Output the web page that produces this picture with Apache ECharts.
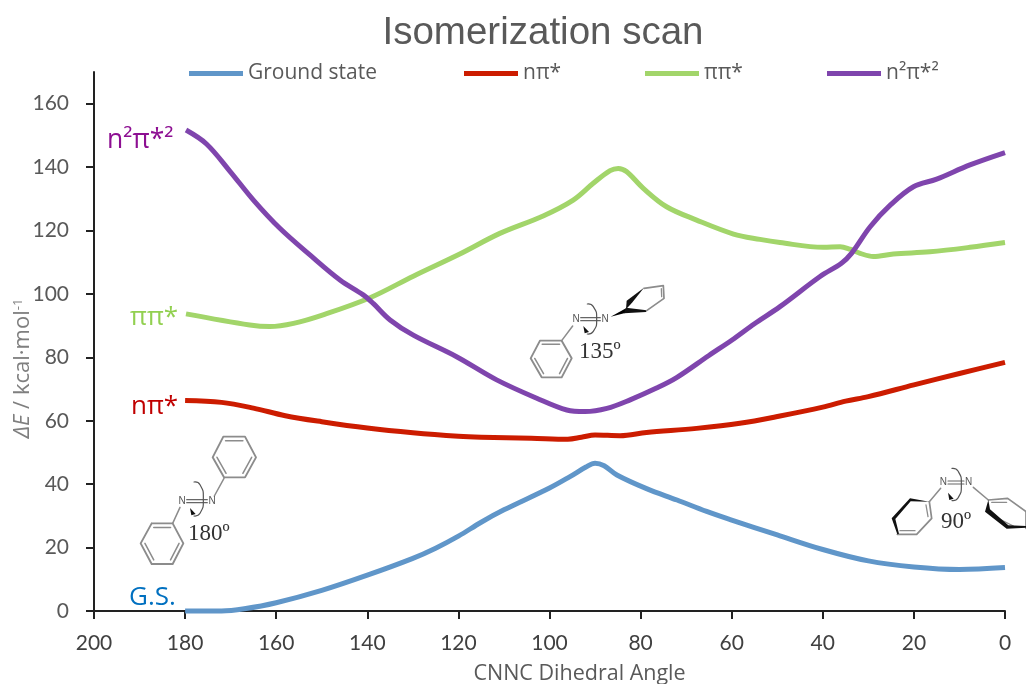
<!DOCTYPE html>
<html><head><meta charset="utf-8">
<style>html,body{margin:0;padding:0;background:#fff}#c{width:1026px;height:684px}</style>
<script src="https://cdn.jsdelivr.net/npm/echarts@6/dist/echarts.min.js"></script>
</head><body><div id="c"></div>
<script>
const xTicks=[0,20,40,60,80,100,120,140,160,180,200];
const yTicks=[0,20,40,60,80,100,120,140,160];
const groundState=[[180,0],[172,0],[167,0.7],[160,2.6],[150,6.5],[140,11.3],[130,16.6],[125,19.8],[120,23.6],[115,28],[110,31.9],[100,38.8],[95.5,42.4],[92,45.4],[90,46.6],[88,45.8],[85.2,42.9],[78.7,38.6],[72,35],[65.5,31.4],[60,28.7],[50,24],[40,19.4],[30,15.8],[20,13.9],[10,13.1],[0,13.7]];
const npi=[[180,66.4],[172,65.8],[165,64],[158,61.6],[150,59.7],[140,57.7],[130,56.2],[120,55.1],[115,54.8],[104,54.5],[96,54.2],[93,54.8],[90,55.5],[84.5,55.3],[78.7,56.3],[67.7,57.6],[58.2,59.2],[49.4,61.5],[40,64.3],[35,66.2],[30,67.6],[20,71.3],[10,74.9],[0,78.4]];
const pipi=[[179.8,93.7],[165.8,90.2],[161.4,89.7],[156.2,90.7],[149.7,93.4],[139.4,98.8],[129.9,105.6],[119.7,112.6],[110.9,119.1],[101.4,124.6],[94.8,129.6],[90.4,134.9],[86.7,138.9],[84.9,139.6],[83.1,138.6],[79.4,133.3],[74.3,127.5],[67.7,123.3],[59.6,118.9],[53.8,117.2],[49.4,116.2],[39.9,114.7],[36.2,114.9],[34,114.1],[31.8,112.8],[28.9,111.8],[24.5,112.6],[16.5,113.3],[7.7,114.7],[0,116.2]];
const n2pi2=[[179.8,151.7],[175.3,147.3],[170.1,138.6],[165,129.6],[159.2,120.7],[152.6,112.3],[146,104.4],[140.9,99.7],[138.7,97],[135,91.8],[129.9,87],[120.4,80.2],[111.6,72.9],[102.8,67.1],[96.2,63.4],[92.2,62.9],[87.4,63.9],[82.3,66.6],[76.5,70.3],[72.1,73.6],[65,80.6],[60,85.4],[55,90.6],[49.4,96],[40.6,105.5],[35.9,109.7],[33.7,112.8],[29.6,121.2],[25.2,128],[20.1,133.8],[15,136.2],[7.7,140.7],[0,144.6]];
const seriesNames=['Ground state','nπ*','ππ*','n²π*²'];
const seriesColors=['#6096c9','#cc1c00','#a2d56a','#7f45ad'];
const seriesData=[groundState,npi,pipi,n2pi2];
const legendLefts=[189,464,645,827];

const GREY='#595959',BOND='#8c8c8c',DARK='#000';
const gfx=[];
function label(t,x,y,color,size,font){gfx.push({type:'text',x,y,silent:true,z:5,style:{text:t,fill:color,font:size+'px "'+(font||'Open Sans')+'"',textAlign:'left',textVerticalAlign:'middle'}});}
function line(pts,ox,oy,w,c,sm){gfx.push({type:'polyline',silent:true,z:4,shape:{smooth:sm||0,points:pts.map(p=>[ox+p[0]/3,oy+p[1]/3])},style:{stroke:c||BOND,lineWidth:w||1.3,fill:null,lineCap:'round',lineJoin:'round'}});}
function fillp(pts,ox,oy,c){gfx.push({type:'polygon',silent:true,z:4,shape:{points:pts.map(p=>[ox+p[0]/3,oy+p[1]/3])},style:{fill:c||DARK}});}
function ring(p,ox,oy){line(p.concat([p[0]]),ox,oy,1.9);}
function inner(a,b,cx,cy,ox,oy){const f=.8,q=[[cx+(a[0]-cx)*f,cy+(a[1]-cy)*f],[cx+(b[0]-cx)*f,cy+(b[1]-cy)*f]];line(q,ox,oy,1.5);}
function nn(x1,x2,y,ox,oy){
 [x1,x2].forEach(x=>gfx.push({type:'text',x:ox+x/3,y:oy+y/3,silent:true,z:5,style:{text:'N',fill:'#555',font:'10px "Liberation Sans"',textAlign:'center',textVerticalAlign:'middle'}}));
 line([[x1+14,y-5],[x2-14,y-5]],ox,oy,1.1,'#666');line([[x1+14,y+4],[x2-14,y+4]],ox,oy,1.1,'#666');
}
function rot(x,ytop,ybot,ox,oy){
 const my=(ytop+ybot)/2;
 line([[x-10,ytop],[x+8,ytop+8],[x+18,my],[x+8,ybot-8],[x-10,ybot]],ox,oy,1.2,'#555',0.6);
 fillp([[x-22,ybot-24],[x-5,ybot-6],[x-18,ybot-2]],ox,oy,'#111');
}
// 135 deg
{const ox=500,oy=270;
 const r=[[120,212],[185,212],[215,265],[185,322],[125,322],[92,265]];ring(r,ox,oy);
 inner(r[0],r[1],153,267,ox,oy);inner(r[2],r[3],153,267,ox,oy);inner(r[4],r[5],153,267,ox,oy);
 line([[185,212],[218,168]],ox,oy,1.5);
 nn(228,315,148,ox,oy);rot(272,102,192,ox,oy);
 fillp([[332,140],[378,115],[384,127]],ox,oy);
 fillp([[378,118],[380,92],[432,53],[396,98]],ox,oy,'#111');
 fillp([[378,113],[440,121],[438,126],[372,130]],ox,oy,'#111');
 line([[432,55],[490,47],[492,85],[440,122]],ox,oy,1.7);line([[484,56],[485,80]],ox,oy,1.3);
 label('135º',579,352,'#333',23,'Liberation Serif');
}
// 180 deg
{const ox=100,oy=420;
 const a=[[370,50],[435,50],[468,112],[435,172],[372,172],[338,112]];ring(a,ox,oy);
 inner(a[0],a[1],403,111,ox,oy);inner(a[2],a[3],403,111,ox,oy);inner(a[4],a[5],403,111,ox,oy);
 const b=[[155,310],[218,310],[250,370],[218,432],[155,432],[122,370]];ring(b,ox,oy);
 inner(b[0],b[1],186,371,ox,oy);inner(b[2],b[3],186,371,ox,oy);inner(b[4],b[5],186,371,ox,oy);
 line([[372,175],[343,228]],ox,oy,1.5);line([[218,310],[240,262]],ox,oy,1.5);
 nn(246,336,244,ox,oy);rot(292,186,288,ox,oy);
 label('180º',188,534,'#333',23,'Liberation Serif');
}
// 90 deg
{const ox=860,oy=450;
 line([[242,115],[208,155]],ox,oy,1.5);
 nn(250,326,98,ox,oy);rot(286,55,152,ox,oy);
 line([[340,112],[385,150]],ox,oy,1.5);
 line([[208,155],[215,205],[170,253],[112,253]],ox,oy,1.7);line([[198,165],[204,200]],ox,oy,1.3);line([[120,242],[165,242]],ox,oy,1.3);
 fillp([[208,155],[150,145],[95,205],[112,253],[117,251],[106,207],[152,154]],ox,oy,'#111');
 line([[385,150],[443,145],[498,185]],ox,oy,1.7);line([[498,185],[498,235]],ox,oy,1.7);line([[395,157],[440,157]],ox,oy,1.3);line([[420,208],[460,228]],ox,oy,1.3);
 fillp([[385,150],[375,185],[440,236],[498,233],[498,228],[445,226],[390,178]],ox,oy,'#111');
 label('90º',941,522,'#333',23,'Liberation Serif');
}
label('n²π*²',107,140,'#8d0f92',26.5);
label('ππ*',130,318,'#92d050',26);
label('nπ*',131,407,'#c00000',26);
label('G.S.',129,598,'#0070c0',26);

const chart=echarts.init(document.getElementById('c'),null,{renderer:'canvas'});
chart.setOption({
 animation:false,backgroundColor:'#fff',
 title:{text:'Isomerization scan',left:543,top:14,padding:0,textAlign:'center',textStyle:{fontFamily:'Liberation Sans',fontSize:38.5,fontWeight:'normal',color:GREY}},
 legend:seriesNames.map((n,i)=>({data:[{name:n,icon:'rect'}],left:legendLefts[i],top:63,padding:0,itemWidth:54,itemHeight:5,itemGap:0,selectedMode:false,textStyle:{color:GREY,fontFamily:'Open Sans',fontSize:21,padding:[1,0,0,0]}})),
 grid:{left:94,right:21,top:72,bottom:73,containLabel:false,outerBoundsMode:'none'},
 xAxis:{type:'value',inverse:true,min:0,max:200,interval:20,name:'CNNC Dihedral Angle',nameLocation:'middle',nameGap:52,nameMoveOverlap:false,
  nameTextStyle:{color:GREY,fontFamily:'Open Sans',fontSize:21.5,padding:[0,0,0,60]},
  axisLine:{lineStyle:{color:'#222',width:2},onZero:false},axisTick:{length:8,lineStyle:{color:'#222',width:2},customValues:xTicks},splitLine:{show:false},
  axisLabel:{color:'#404040',fontFamily:'Lato',fontSize:21,margin:22,customValues:xTicks}},
 yAxis:{type:'value',min:0,max:170,name:'{i|ΔE} / kcal·mol{s|-1}',nameLocation:'middle',nameGap:60,nameRotate:90,nameMoveOverlap:false,
  nameTextStyle:{color:'#7f7f7f',fontFamily:'Open Sans',fontSize:22,padding:[0,54,0,0],rich:{i:{fontStyle:'italic',color:'#7f7f7f',fontFamily:'Open Sans',fontSize:22},s:{color:'#7f7f7f',fontFamily:'Open Sans',fontSize:13,verticalAlign:'top'}}},
  axisLine:{onZero:false,lineStyle:{color:'#222',width:2}},axisTick:{length:8,lineStyle:{color:'#222',width:2},customValues:yTicks},splitLine:{show:false},
  axisLabel:{color:GREY,fontFamily:'Lato',fontSize:21,margin:25,customValues:yTicks}},
 series:seriesNames.map((n,i)=>({name:n,type:'line',data:seriesData[i],smooth:0.35,showSymbol:false,clip:false,lineStyle:{width:5,color:seriesColors[i],cap:'butt',join:'round'},itemStyle:{color:seriesColors[i]},emphasis:{disabled:true}})),
 graphic:gfx
});
</script></body></html>
